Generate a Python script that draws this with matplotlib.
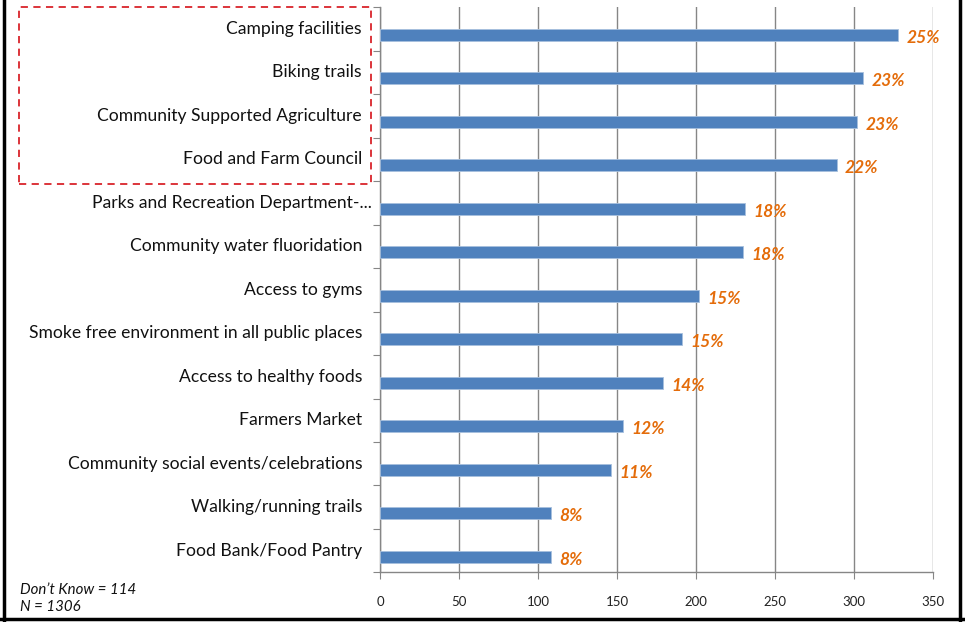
import matplotlib
matplotlib.use("Agg")
import matplotlib.pyplot as plt
from matplotlib.lines import Line2D
from matplotlib.patches import Rectangle
import matplotlib.transforms as mtransforms

plt.rcParams["font.family"] = ["Lato", "DejaVu Sans"]

# Survey responses, top to bottom
categories = [
    "Camping facilities",
    "Biking trails",
    "Community Supported Agriculture",
    "Food and Farm Council",
    "Parks and Recreation Department-...",
    "Community water fluoridation",
    "Access to gyms",
    "Smoke free environment in all public places",
    "Access to healthy foods",
    "Farmers Market",
    "Community social events/celebrations",
    "Walking/running trails",
    "Food Bank/Food Pantry",
]
counts = [328, 306, 302, 289, 231, 230, 202, 191, 179, 154, 146, 108, 108]
pct_labels = ["25%", "23%", "23%", "22%", "18%", "18%", "15%", "15%",
              "14%", "12%", "11%", "8%", "8%"]
x_ticks = [0, 50, 100, 150, 200, 250, 300, 350]
notes = ["Don\u2019t Know = 114", "N = 1306"]

bar_color = "#4F81BD"
label_color = "#E46C0A"
axis_gray = "#868686"

fig = plt.figure(figsize=(9.65, 6.22), dpi=100)
ax = fig.add_axes([0.3938, 0.0796, 0.5730, 0.9091])

ypos = list(range(len(categories)))
bar_y = [y + 0.14 for y in ypos]
ax.barh(bar_y, counts, height=0.27, color=bar_color,
        edgecolor="#A7C0DE", linewidth=0.6, zorder=3)

for y, v, lab in zip(bar_y, counts, pct_labels):
    ax.annotate(lab, (v, y), xytext=(6, -2), textcoords="offset points",
                ha="left", va="center", color=label_color,
                fontsize=12.5, fontweight="bold", fontstyle="italic")

ax.set_xlim(0, 350)
ax.set_ylim(len(categories) - 0.5, -0.5)
ax.set_xticks(x_ticks)
ax.set_xticklabels([str(t) for t in x_ticks], fontsize=9.5, color="#222222")
ax.xaxis.grid(True, color=axis_gray, linewidth=1.0, zorder=0)

# category boundaries carry the tick marks on the left spine
ax.set_yticks([y - 0.5 for y in ypos] + [len(categories) - 0.5])
ax.set_yticklabels([])
ax.tick_params(axis="y", length=5, color=axis_gray, direction="out")
ax.tick_params(axis="x", length=5, color=axis_gray, direction="out", pad=12)

for side in ["top", "right"]:
    ax.spines[side].set_visible(False)
for side in ["left", "bottom"]:
    ax.spines[side].set_color(axis_gray)
    ax.spines[side].set_linewidth(1.0)

# category names drawn right-aligned left of the axis
trans = mtransforms.blended_transform_factory(fig.transFigure, ax.transData)
for y, name in zip(ypos, categories):
    xr = 372 / 965 if name.endswith("...") else 362 / 965
    ax.text(xr, y, name, transform=trans, ha="right", va="center",
            fontsize=12.6, color="#111111")

# highlight box around the top four items
fig.add_artist(Rectangle((19 / 965, 1 - 184 / 622), 352 / 965, 177 / 622,
                         transform=fig.transFigure, fill=False,
                         edgecolor="#D9242B", linestyle=(0, (4, 3)),
                         linewidth=1.3))

fig.text(20 / 965, 1 - 590 / 622, notes[0], fontsize=10.8, fontstyle="italic",
         va="center", color="#111111")
fig.text(20 / 965, 1 - 607 / 622, notes[1], fontsize=10.8, fontstyle="italic",
         va="center", color="#111111")

# frame on left, right and bottom
for xs, ys in [([3.5 / 965, 3.5 / 965], [0, 1]),
               ([960 / 965, 960 / 965], [0, 1]),
               ([0, 1], [3 / 622, 3 / 622])]:
    fig.add_artist(Line2D(xs, ys, transform=fig.transFigure,
                          color="black", linewidth=2.5))

fig.savefig("out.png", dpi=100)
